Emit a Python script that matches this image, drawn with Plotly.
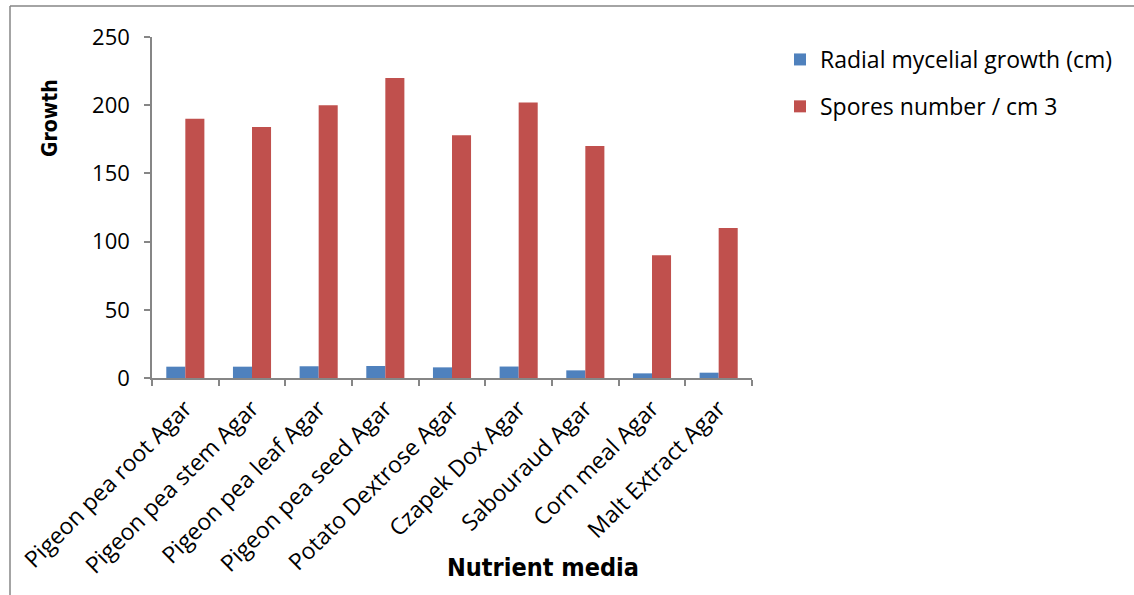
import plotly.graph_objects as go

# Nutrient media tested
media = [
    "Pigeon pea root Agar",
    "Pigeon pea stem Agar",
    "Pigeon pea leaf Agar",
    "Pigeon pea seed Agar",
    "Potato Dextrose Agar",
    "Czapek Dox Agar",
    "Sabouraud Agar",
    "Corn meal Agar",
    "Malt Extract Agar",
]

# Radial mycelial growth (cm)
radial_growth = [8.3, 8.3, 8.6, 8.8, 7.8, 8.4, 5.6, 3.4, 3.9]

# Spores number / cm 3
spores = [190, 184, 200, 220, 178, 202, 170, 90, 110]

y_ticks = [0, 50, 100, 150, 200, 250]

W, H = 1134, 595
L, R, T, B = 152, 382, 37, 217
plot_w = W - L - R
plot_h = H - T - B

AXIS_GREY = "#868686"
FONT = "Open Sans"
NARROW = "Liberation Sans Narrow, DejaVu Sans Condensed, Liberation Sans, sans-serif"


def px_x(p):
    return (p - L) / plot_w


def px_y(p):
    return (H - B - p) / plot_h


fig = go.Figure()
fig.add_trace(go.Bar(
    x=media, y=radial_growth, name="Radial mycelial growth (cm)",
    marker=dict(color="#4F81BD", line=dict(width=0)),
    legendgroup="a",
))
fig.add_trace(go.Bar(
    x=media, y=spores, name="Spores number / cm 3",
    marker=dict(color="#C0504D", line=dict(width=0)),
    legendgroup="b",
))

fig.update_layout(
    width=W, height=H,
    margin=dict(l=L, r=R, t=T, b=B, autoexpand=False),
    paper_bgcolor="white", plot_bgcolor="white",
    barmode="group", bargap=0.4286, bargroupgap=0,
    font=dict(family=FONT, color="black", size=21),
    showlegend=True,
    legend=dict(
        x=px_x(780), y=px_y(38), xanchor="left", yanchor="top",
        font=dict(family=FONT, size=23, color="black"),
        tracegroupgap=14, itemwidth=30, bgcolor="rgba(0,0,0,0)",
    ),
    xaxis=dict(
        type="category", showgrid=False, zeroline=False,
        showline=True, linecolor=AXIS_GREY, linewidth=1.5,
        ticks="outside", tickson="boundaries", ticklen=6,
        tickcolor=AXIS_GREY, tickwidth=1.5,
        tickangle=-45, tickfont=dict(family=FONT, size=23, color="black"),
        ticklabelstandoff=6,
    ),
    yaxis=dict(
        range=[0, 250], tickvals=y_ticks, showgrid=False, zeroline=False,
        showline=True, linecolor=AXIS_GREY, linewidth=1.5,
        ticks="outside", ticklen=6, tickcolor=AXIS_GREY, tickwidth=1.5,
        tickfont=dict(family=FONT, size=22, color="black"),
        ticklabelstandoff=10,
    ),
    shapes=[
        # chart frame (left and top edges)
        dict(type="line", xref="paper", yref="paper",
             x0=px_x(10), x1=px_x(10), y0=px_y(6), y1=px_y(H + 5),
             line=dict(color=AXIS_GREY, width=1.5)),
        dict(type="line", xref="paper", yref="paper",
             x0=px_x(10), x1=px_x(W + 5), y0=px_y(6), y1=px_y(6),
             line=dict(color=AXIS_GREY, width=1.5)),
    ],
    annotations=[
        dict(text="<b>Growth</b>", textangle=-90, xref="paper", yref="paper",
             x=px_x(50), y=px_y(118), xanchor="center", yanchor="middle",
             showarrow=False,
             font=dict(family=NARROW, size=21, color="black")),
        dict(text="<b>Nutrient media</b>", xref="paper", yref="paper",
             x=px_x(543), y=px_y(567), xanchor="center", yanchor="middle",
             showarrow=False,
             font=dict(family=NARROW, size=25, color="black")),
    ],
)

fig.write_html("out.html")
